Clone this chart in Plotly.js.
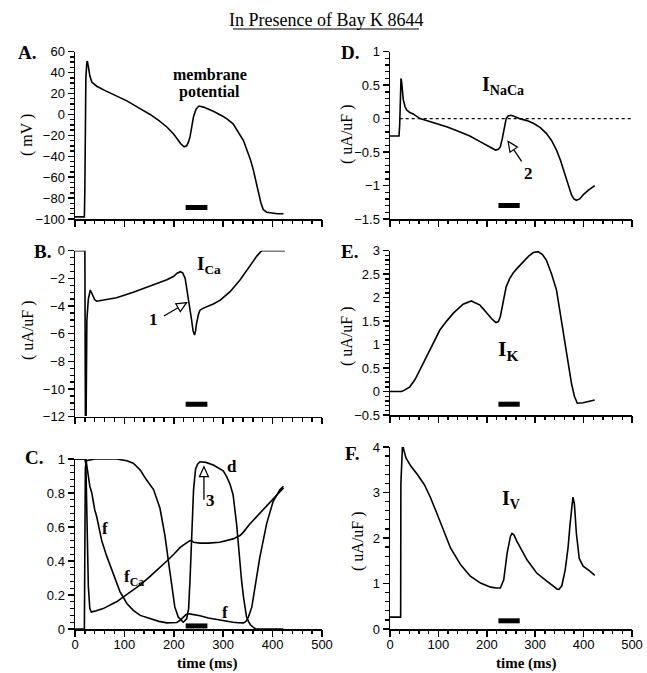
<!DOCTYPE html>
<html>
<head>
<meta charset="utf-8">
<script src="https://cdn.plot.ly/plotly-3.0.1.min.js"></script>
<style>html,body{margin:0;padding:0;background:#fff;}#chart{width:647px;height:673px;}</style>
</head>
<body>
<div id="chart"></div>
<script>
// ---------------- DATA ----------------
// A. membrane potential (mV)
const tA = [0, 19, 20, 21, 22, 24, 25, 27, 30, 34, 40, 44, 60, 80, 105, 130, 152, 170, 186, 200, 206, 214, 221, 226, 230, 233, 237, 240, 245, 251, 260, 280, 300, 307, 320, 327, 335, 341, 348, 355, 361, 366, 371, 376, 381, 388, 395, 410, 422];
const vA = [-98, -98, -70, 0, 35, 50, 51, 46, 37, 31, 28.5, 27, 23, 18.5, 13, 6, 0, -6, -12, -19, -23, -28, -31, -30, -26, -21, -10, -2, 5, 8, 7, 3, -2, -4, -9, -14, -20, -25, -34, -43, -53, -64, -75, -84, -91, -93.5, -94, -95, -95];

// B. I_Ca (uA/uF)
const tB = [0, 20, 21, 22.5, 24, 27, 31, 35, 40, 44, 51, 84, 118, 152, 186, 200, 206, 213, 218, 223, 229, 233, 236, 239, 242, 244, 246, 250, 253, 260, 267, 280, 294, 314, 334, 354, 362, 368, 373, 378, 425];
const vB = [0, 0, -11.9, -11.9, -5, -3.5, -2.84, -3.2, -3.55, -3.65, -3.6, -3.4, -3.0, -2.55, -2.1, -1.85, -1.65, -1.52, -1.6, -2.0, -3.3, -4.2, -5.0, -5.8, -6.1, -5.8, -5.25, -4.6, -4.3, -4.15, -4.05, -3.85, -3.57, -2.96, -2.12, -1.16, -0.7, -0.39, -0.15, 0, 0];

// C. gating variables d, f, fCa
const tCd = [0, 19, 20, 21, 23, 40, 84, 105, 118, 132, 145, 159, 172, 182, 190, 196, 202, 209, 219, 226, 230, 233, 236, 240, 244, 248, 253, 265, 280, 300, 307, 314, 320, 324, 327, 331, 334, 337, 341, 344, 347, 351, 355, 361, 366, 422];
const vCd = [0, 0, 0.5, 0.95, 0.99, 1.0, 1.0, 0.99, 0.975, 0.935, 0.876, 0.82, 0.71, 0.55, 0.38, 0.24, 0.13, 0.07, 0.04, 0.06, 0.12, 0.3, 0.55, 0.82, 0.94, 0.97, 0.984, 0.98, 0.965, 0.93, 0.896, 0.85, 0.79, 0.70, 0.62, 0.49, 0.38, 0.29, 0.19, 0.13, 0.075, 0.045, 0.025, 0.01, 0, 0];
const tCf = [0, 20, 22, 24, 30, 34, 40, 44, 51, 54, 64, 78, 91, 105, 118, 132, 152, 170, 186, 200, 206, 212, 219, 225, 229, 235, 245, 253, 270, 287, 304, 320, 330, 341, 346, 351, 358, 364, 374, 388, 401, 415, 422];
const vCf = [1, 1, 1, 0.96, 0.84, 0.80, 0.70, 0.66, 0.56, 0.52, 0.43, 0.32, 0.22, 0.15, 0.11, 0.08, 0.06, 0.045, 0.036, 0.035, 0.038, 0.05, 0.07, 0.085, 0.09, 0.088, 0.083, 0.078, 0.065, 0.055, 0.047, 0.04, 0.037, 0.036, 0.045, 0.07, 0.13, 0.25, 0.42, 0.62, 0.75, 0.82, 0.84];
const tCa = [0, 20, 22, 24, 27, 30, 33, 40, 57, 84, 104, 118, 132, 152, 172, 186, 200, 213, 225, 233, 236, 240, 253, 270, 293, 320, 334, 341, 353, 361, 388, 415, 422];
const vCa = [1, 1, 0.97, 0.6, 0.25, 0.12, 0.10, 0.105, 0.12, 0.16, 0.2, 0.23, 0.26, 0.31, 0.36, 0.40, 0.44, 0.48, 0.505, 0.52, 0.52, 0.51, 0.505, 0.505, 0.51, 0.53, 0.55, 0.57, 0.615, 0.64, 0.72, 0.81, 0.83];

// D. I_NaCa (uA/uF)
const tD = [0, 18.6, 20, 21.5, 22.7, 24, 27.5, 31, 34.4, 41, 48, 62, 89, 117, 145, 165, 185, 199, 210, 218, 224, 228, 232, 235, 237, 240, 244, 249, 255, 268, 283, 296, 310, 323, 334, 344, 352, 361, 368, 375, 380, 385, 392, 399, 410, 423];
const vD = [-0.26, -0.26, -0.1, 0.3, 0.6, 0.55, 0.28, 0.18, 0.13, 0.09, 0.07, 0.0, -0.06, -0.12, -0.2, -0.26, -0.34, -0.39, -0.44, -0.47, -0.46, -0.42, -0.3, -0.18, -0.08, 0.0, 0.04, 0.05, 0.04, 0.0, -0.03, -0.07, -0.13, -0.22, -0.33, -0.47, -0.62, -0.82, -0.98, -1.14, -1.2, -1.22, -1.2, -1.14, -1.07, -1.0];
const zeroRefT = [20, 500];
const zeroRefV = [0, 0];

// E. I_K (uA/uF)
const tE = [0, 24, 30, 41, 52, 62, 83, 103, 117, 131, 151, 168, 186, 203, 212, 219, 224, 228, 232, 236, 240, 247, 254, 265, 275, 286, 296, 306, 315, 323, 334, 344, 352, 361, 368, 375, 381, 387, 399, 423];
const vE = [0, 0, 0.03, 0.1, 0.26, 0.46, 0.88, 1.31, 1.5, 1.67, 1.86, 1.93, 1.84, 1.63, 1.53, 1.47, 1.49, 1.6, 1.81, 2.05, 2.23, 2.4, 2.52, 2.65, 2.77, 2.88, 2.96, 2.98, 2.92, 2.8, 2.5, 2.16, 1.65, 1.1, 0.6, 0.17, -0.1, -0.25, -0.24, -0.18];

// F. I_V (uA/uF)
const tF = [0, 22, 22.5, 24.5, 26, 28, 33, 43, 57, 71, 84, 98, 112, 125, 146, 166, 187, 208, 220, 228, 235, 242, 249, 252, 256, 262, 283, 303, 324, 345, 349, 355, 362, 368, 372, 375, 378, 381, 385, 391, 399, 413, 423];
const vF = [0.26, 0.26, 3.2, 3.9, 4.08, 3.95, 3.76, 3.58, 3.39, 3.17, 2.88, 2.51, 2.11, 1.78, 1.41, 1.16, 1.01, 0.92, 0.9, 0.9, 1.08, 1.67, 2.04, 2.1, 2.07, 1.93, 1.52, 1.23, 1.05, 0.88, 0.87, 0.95, 1.3, 1.8, 2.3, 2.7, 2.9, 2.75, 2.11, 1.55, 1.38, 1.27, 1.18];

// Bay K 8644 application bar (time window) and its level in each panel
const barT = [224, 268];
const barLevels = {A: -89, B: -11.1, C: 0.018, D: -1.30, E: -0.27, F: 0.18};

// tick labels
const xTickVals = [0, 100, 200, 300, 400, 500];
const xTickText = ['0', '100', '200', '300', '400', '500'];

// ---------------- LAYOUT HELPERS ----------------
const W = 647, H = 673;
const px = v => v / W;
const py = v => 1 - v / H;
const SERIF = 'Liberation Serif, Times New Roman, serif';
const SANS = 'Liberation Sans, Arial, sans-serif';

const lineStyle = {color: 'black', width: 1.6};
function tr(x, y, xa, ya, extra) {
  return Object.assign({x: x, y: y, xaxis: xa, yaxis: ya, mode: 'lines', line: lineStyle, hoverinfo: 'skip', cliponaxis: false}, extra || {});
}
function bar(level, xa, ya) {
  return {x: barT, y: [level, level], xaxis: xa, yaxis: ya, mode: 'lines', line: {color: 'black', width: 5}, hoverinfo: 'skip', cliponaxis: false};
}

const traces = [
  tr(tA, vA, 'x', 'y'),
  tr(tB, vB, 'x2', 'y2'),
  tr(tCd, vCd, 'x3', 'y3'),
  tr(tCf, vCf, 'x3', 'y3'),
  tr(tCa, vCa, 'x3', 'y3'),
  tr(zeroRefT, zeroRefV, 'x4', 'y4', {line: {color: 'black', width: 1.1, dash: 'dot'}}),
  tr(tD, vD, 'x4', 'y4'),
  tr(tE, vE, 'x5', 'y5'),
  tr(tF, vF, 'x6', 'y6'),
  bar(barLevels.A, 'x', 'y'),
  bar(barLevels.B, 'x2', 'y2'),
  bar(barLevels.C, 'x3', 'y3'),
  bar(barLevels.D, 'x4', 'y4'),
  bar(barLevels.E, 'x5', 'y5'),
  bar(barLevels.F, 'x6', 'y6')
];

const leftDom = [px(75), px(322)];
const rightDom = [px(390), px(632)];

function xAxis(dom, anchor, labels) {
  return {
    domain: dom, anchor: anchor, range: [0, 500], showline: true, linecolor: 'black', linewidth: 1.5,
    ticks: 'outside', ticklen: 6, tickwidth: 1.5, tickcolor: 'black', ticklabelstandoff: -3,
    tickmode: 'array', tickvals: xTickVals, ticktext: xTickText, showticklabels: labels,
    showgrid: false, zeroline: false, fixedrange: true,
    tickfont: {family: SANS, size: 13, color: 'black'}
  };
}
function yAxis(dom, anchor, range, dtick) {
  return {
    domain: dom, anchor: anchor, range: range, showline: true, linecolor: 'black', linewidth: 1.5,
    ticks: 'outside', ticklen: 6, tickwidth: 1.5, tickcolor: 'black', dtick: dtick, tick0: 0,
    showgrid: false, zeroline: false, fixedrange: true,
    tickfont: {family: SANS, size: 13, color: 'black'}
  };
}
// minor-tick axes overlaid on the main ones
function minorAxis(base, anchor, range, dtick) {
  return {
    overlaying: base, anchor: anchor, range: range, showline: false,
    ticks: 'outside', ticklen: 4, tickwidth: 1.4, tickcolor: 'black', dtick: dtick, tick0: 0,
    showticklabels: false, showgrid: false, zeroline: false, fixedrange: true
  };
}

function note(text, x, y, opts) {
  return Object.assign({text: text, x: x, y: y, xref: 'paper', yref: 'paper', showarrow: false,
    xanchor: 'center', yanchor: 'middle', font: {family: SERIF, size: 16, color: 'black'}}, opts || {});
}
function dnote(text, x, y, xr, yr, size, opts) {
  return Object.assign({text: text, x: x, y: y, xref: xr, yref: yr, showarrow: false,
    xanchor: 'center', yanchor: 'middle', font: {family: SERIF, size: size, color: 'black'}}, opts || {});
}

const annotations = [
  note('In Presence of Bay K 8644', px(326), py(20), {font: {family: SERIF, size: 18, color: 'black'}}),
  note('<b>A.</b>', px(27), py(53), {font: {family: SERIF, size: 19, color: 'black'}}),
  note('<b>B.</b>', px(42), py(251), {font: {family: SERIF, size: 19, color: 'black'}}),
  note('<b>C.</b>', px(34), py(457), {font: {family: SERIF, size: 19, color: 'black'}}),
  note('<b>D.</b>', px(350), py(53), {font: {family: SERIF, size: 19, color: 'black'}}),
  note('<b>E.</b>', px(349), py(251), {font: {family: SERIF, size: 19, color: 'black'}}),
  note('<b>F.</b>', px(352), py(453), {font: {family: SERIF, size: 19, color: 'black'}}),
  note('( mV )', px(27), py(135), {textangle: -90}),
  note('( uA/uF )', px(28), py(330), {textangle: -90}),
  note('( uA/uF )', px(347), py(134), {textangle: -90}),
  note('( uA/uF )', px(347), py(336), {textangle: -90}),
  note('( uA/uF )', px(358), py(541), {textangle: -90}),
  note('<b>time (ms)</b>', px(207), py(663), {font: {family: SERIF, size: 15, color: 'black'}}),
  note('<b>time (ms)</b>', px(526), py(663), {font: {family: SERIF, size: 15, color: 'black'}}),
  dnote('<b>membrane</b>', 273, 38.6, 'x', 'y', 16),
  dnote('<b>potential</b>', 273, 21.8, 'x', 'y', 16),
  dnote('<b>I<sub>Ca</sub></b>', 243, -1.0, 'x2', 'y2', 19, {xanchor: 'left'}),
  dnote('<b>1</b>', 159, -5.0, 'x2', 'y2', 17),
  dnote('<b>d</b>', 115, 1.04, 'x3', 'y3', 17),
  dnote('<b>d</b>', 317, 0.955, 'x3', 'y3', 17),
  dnote('<b>f</b>', 61, 0.59, 'x3', 'y3', 17),
  dnote('<b>f</b>', 304, 0.10, 'x3', 'y3', 17),
  dnote('<b>f<sub>Ca</sub></b>', 95, 0.30, 'x3', 'y3', 17, {xanchor: 'left'}),
  dnote('<b>3</b>', 275, 0.754, 'x3', 'y3', 17),
  dnote('<b>I<sub>NaCa</sub></b>', 186, 0.5, 'x4', 'y4', 20, {xanchor: 'left'}),
  dnote('<b>2</b>', 286, -0.82, 'x4', 'y4', 17),
  dnote('<b>I<sub>K</sub></b>', 219, 0.88, 'x5', 'y5', 22, {xanchor: 'left'}),
  dnote('<b>I<sub>V</sub></b>', 227, 2.85, 'x6', 'y6', 20, {xanchor: 'left'})
];

// arrows: shaft line + open triangular head (pixel-sized path)
function arrow(tail, tip, xr, yr, pxPerX, pxPerY) {
  const dx = (tip[0] - tail[0]) * pxPerX, dy = (tip[1] - tail[1]) * pxPerY;
  const len = Math.hypot(dx, dy), ux = dx / len, uy = dy / len;
  const L = 10, w = 4.5;
  const bx = -L * ux, by = -L * uy, nx = -uy, ny = ux;
  const p1 = [bx + w * nx, by + w * ny], p2 = [bx - w * nx, by - w * ny];
  const baseX = tip[0] + bx / pxPerX, baseY = tip[1] + by / pxPerY;
  return [
    {type: 'line', xref: xr, yref: yr, x0: tail[0], y0: tail[1], x1: baseX, y1: baseY, line: {color: 'black', width: 1.3}},
    {type: 'path', xref: xr, yref: yr, xsizemode: 'pixel', ysizemode: 'pixel', xanchor: tip[0], yanchor: tip[1],
     path: `M0,0 L${p1[0].toFixed(2)},${p1[1].toFixed(2)} L${p2[0].toFixed(2)},${p2[1].toFixed(2)} Z`,
     fillcolor: 'white', line: {color: 'black', width: 1.2}}
  ];
}

const shapes = [
  {type: 'line', xref: 'paper', yref: 'paper', x0: px(233), x1: px(419), y0: py(29), y1: py(29), line: {color: 'black', width: 1.2}}
].concat(
  arrow([180, -4.72], [226, -3.76], 'x2', 'y2', 247 / 500, 166 / 12),
  arrow([272, -0.64], [244, -0.34], 'x4', 'y4', 242 / 500, 167.3 / 2.5),
  arrow([261, 0.76], [261, 0.955], 'x3', 'y3', 247 / 500, 170)
);

// panels: x-domain, y-domain, y-range, major and minor y steps, show x labels
const panels = [
  {xd: leftDom,  yd: [py(219), py(51.7)],    yr: [-100, 60], dy: 20,  my: 5,    lab: false},
  {xd: leftDom,  yd: [py(416.7), py(250.7)], yr: [-12, 0],   dy: 2,   my: 0.5,  lab: false},
  {xd: leftDom,  yd: [py(629), py(459)],     yr: [0, 1],     dy: 0.2, my: 0.04, lab: true},
  {xd: rightDom, yd: [py(219), py(51.7)],    yr: [-1.5, 1],  dy: 0.5, my: 0.1,  lab: false},
  {xd: rightDom, yd: [py(415), py(250.7)],   yr: [-0.5, 3],  dy: 0.5, my: 0.1,  lab: false},
  {xd: rightDom, yd: [py(629), py(447)],     yr: [0, 4],     dy: 1,   my: 0.2,  lab: true}
];

const layout = {
  width: W, height: H, margin: {l: 0, r: 0, t: 0, b: 0},
  paper_bgcolor: 'white', plot_bgcolor: 'white', showlegend: false,
  annotations: annotations, shapes: shapes
};

const id = n => (n === 1 ? '' : String(n));
panels.forEach((p, i) => {
  const n = i + 1, m = i + 7;
  layout['xaxis' + id(n)] = xAxis(p.xd, 'y' + id(n), p.lab);
  layout['yaxis' + id(n)] = yAxis(p.yd, 'x' + id(n), p.yr, p.dy);
  layout['xaxis' + m] = minorAxis('x' + id(n), 'y' + id(n), [0, 500], 20);
  layout['yaxis' + m] = minorAxis('y' + id(n), 'x' + id(n), p.yr, p.my);
  // empty traces so the minor-tick axes are instantiated
  traces.push({x: [], y: [], xaxis: 'x' + m, yaxis: 'y' + id(n), mode: 'lines', hoverinfo: 'skip', showlegend: false});
  traces.push({x: [], y: [], xaxis: 'x' + id(n), yaxis: 'y' + m, mode: 'lines', hoverinfo: 'skip', showlegend: false});
});

Plotly.newPlot('chart', traces, layout, {staticPlot: true, displayModeBar: false});
</script>
</body>
</html>
